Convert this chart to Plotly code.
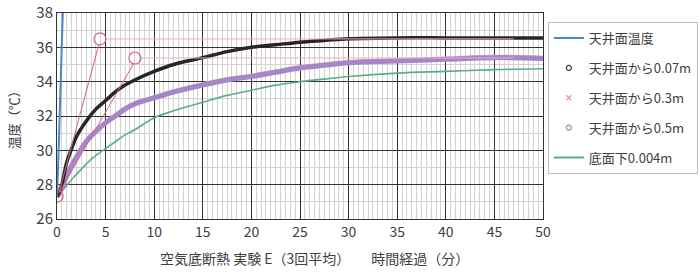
import plotly.graph_objects as go

# ---- data ----
t_ceiling = [0, 0.1, 0.2, 0.3, 0.4, 0.5, 0.6, 0.7]
ceiling = [27.3, 28.5, 30.5, 32.5, 34.5, 36.5, 38.5, 40.0]

t = [0, 0.25, 0.5, 1, 1.5, 2, 3, 4, 5, 6, 7, 8, 10, 12, 15, 17.5, 20, 22.5, 25, 27.5, 30, 35, 40, 45, 50]
d007 = [27.3, 27.6, 28.0, 29.3, 30.1, 30.8, 31.7, 32.4, 32.9, 33.4, 33.8, 34.1, 34.6, 35.0, 35.4, 35.75, 36.0, 36.15, 36.3, 36.4, 36.5, 36.55, 36.55, 36.55, 36.55]
d03 = [27.3, 27.55, 27.85, 28.55, 29.15, 29.65, 30.55, 31.15, 31.65, 32.05, 32.45, 32.75, 33.1, 33.45, 33.85, 34.15, 34.35, 34.6, 34.85, 35.0, 35.15, 35.25, 35.35, 35.45, 35.4]
d05 = [27.3, 27.5, 27.8, 28.5, 29.1, 29.6, 30.5, 31.1, 31.6, 32.0, 32.4, 32.7, 33.05, 33.4, 33.8, 34.1, 34.3, 34.55, 34.8, 34.95, 35.1, 35.2, 35.3, 35.4, 35.35]
bottom = [27.3, 27.4, 27.6, 27.95, 28.3, 28.6, 29.2, 29.7, 30.1, 30.5, 30.9, 31.2, 31.9, 32.3, 32.8, 33.2, 33.5, 33.8, 34.0, 34.15, 34.3, 34.5, 34.6, 34.7, 34.75]

names = ["天井面温度", "天井面から0.07m", "天井面から0.3m", "天井面から0.5m", "底面下0.004m"]

# hand-drawn annotation marks (circle centres, in data units)
mark_x = [4.42, 8.02]
mark_y = [36.49, 35.38]
origin_x = [0.0]
origin_y = [27.33]
guide_end_x = 47.0

x_ticks = list(range(0, 51, 5))
y_ticks = list(range(26, 39, 2))

# ---- figure ----
font = "Noto Sans CJK JP, Noto Sans, sans-serif"
fig = go.Figure()

fig.add_trace(go.Scatter(x=t, y=bottom, mode="lines", line=dict(color="#5aad8c", width=1.6, shape="spline"),
                         showlegend=False))
fig.add_trace(go.Scatter(x=t, y=d03, mode="lines", line=dict(color="#e6a3b6", width=4, shape="spline"),
                         showlegend=False))
fig.add_trace(go.Scatter(x=t, y=d05, mode="lines", line=dict(color="#a587c9", width=5, shape="spline"),
                         showlegend=False))
fig.add_trace(go.Scatter(x=t, y=d007, mode="lines", line=dict(color="#262626", width=3.5, shape="spline"),
                         showlegend=False))
fig.add_trace(go.Scatter(x=t_ceiling, y=ceiling, mode="lines", line=dict(color="#4a86c8", width=2),
                         showlegend=False))

# legend entries
leg = [
    dict(mode="lines", line=dict(color="#4a86c8", width=2)),
    dict(mode="markers", marker=dict(symbol="circle-open", size=5, color="#333333", line=dict(width=1.2))),
    dict(mode="markers", marker=dict(symbol="x-thin-open", size=5, color="#e6a3b6", line=dict(width=1.5))),
    dict(mode="markers", marker=dict(symbol="circle-open", size=5, color="#a587c9", line=dict(width=1.2))),
    dict(mode="lines", line=dict(color="#5aad8c", width=2)),
]
for i, (n, st) in enumerate(zip(names, leg)):
    fig.add_trace(go.Scatter(x=[None], y=[None], name=n, legendgroup=f"g{i}", **st))

# annotation shapes
shapes = []
red = "#d9637c"
for mx, my in zip(mark_x, mark_y):
    shapes.append(dict(type="line", xref="x", yref="y", x0=origin_x[0] + 0.2, y0=origin_y[0] + 0.2,
                       x1=mx - 0.1, y1=my - 0.3, line=dict(color=red, width=1)))
    shapes.append(dict(type="line", xref="x", yref="y", x0=mx + 0.6, y0=my, x1=guide_end_x, y1=my,
                       line=dict(color="#eab0bd", width=1)))
    shapes.append(dict(type="circle", xref="x", yref="y", xsizemode="pixel", ysizemode="pixel",
                       xanchor=mx, yanchor=my, x0=-6, x1=6, y0=-6, y1=6,
                       line=dict(color=red, width=1.2)))
shapes.append(dict(type="circle", xref="x", yref="y", xsizemode="pixel", ysizemode="pixel",
                   xanchor=origin_x[0], yanchor=origin_y[0], x0=-6, x1=6, y0=-6, y1=6,
                   line=dict(color=red, width=1.2)))

fig.update_layout(
    width=700, height=275,
    margin=dict(l=57, r=157, t=13, b=56, autoexpand=False),
    paper_bgcolor="white", plot_bgcolor="white",
    font=dict(family=font, color="#404040", size=14),
    shapes=shapes,
    legend=dict(x=1.01, y=0.956, xanchor="left", yanchor="top",
                bordercolor="#bbbbbb", borderwidth=1, bgcolor="white",
                font=dict(size=13, color="#404040"), tracegroupgap=10,
                itemwidth=30),
    xaxis=dict(range=[0, 50], tickvals=x_ticks, ticktext=[str(v) for v in x_ticks],
               showgrid=True, gridcolor="#333333", gridwidth=1,
               minor=dict(dtick=0.5, showgrid=True, gridcolor="#d2d2d2", gridwidth=1),
               showline=True, linecolor="#333333", linewidth=1, mirror=True,
               zeroline=False, ticks="", tickfont=dict(size=14)),
    yaxis=dict(range=[26, 38], tickvals=y_ticks, ticktext=[str(v) for v in y_ticks],
               showgrid=True, gridcolor="#333333", gridwidth=1,
               minor=dict(dtick=1, showgrid=True, gridcolor="#d2d2d2", gridwidth=1),
               showline=True, linecolor="#333333", linewidth=1, mirror=True,
               zeroline=False, ticks="", tickfont=dict(size=15)),
    annotations=[
        dict(text="空気底断熱 実験 E（3回平均）　　時間経過（分）", xref="paper", yref="paper",
             x=0.53, y=-0.19, xanchor="center", yanchor="middle", showarrow=False,
             font=dict(size=14, color="#404040")),
        dict(text="温度（℃）", xref="paper", yref="paper", x=-0.09, y=0.495, textangle=-90,
             xanchor="center", yanchor="middle", showarrow=False,
             font=dict(size=13, color="#404040")),
    ],
)

fig.write_html("out.html")
